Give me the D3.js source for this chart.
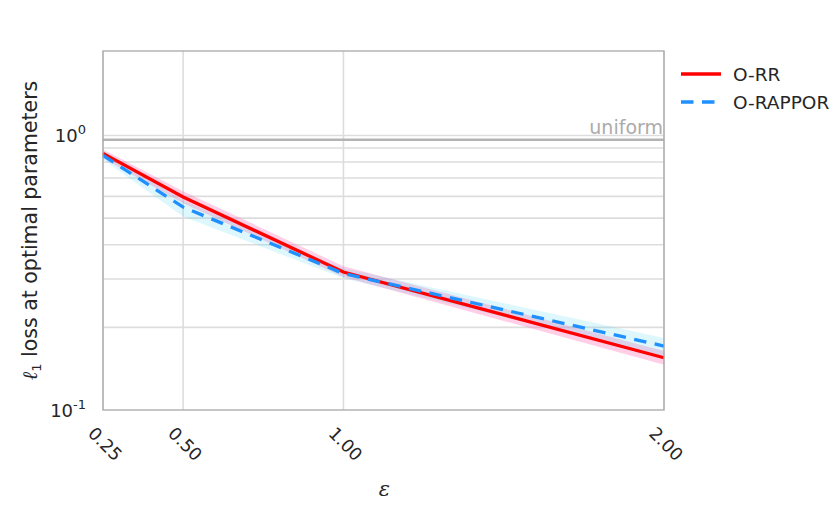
<!DOCTYPE html>
<html>
<head>
<meta charset="utf-8">
<script src="https://cdn.jsdelivr.net/npm/d3@7"></script>
<style>
body { margin: 0; background: #fff; }
</style>
</head>
<body>
<div id="chart"></div>
<script>
// epsilon values and loss at optimal params
var eps = [0.25, 0.5, 1.0, 2.0];
var orr = [0.86, 0.597, 0.318, 0.155];
var orr_lo = [0.825, 0.566, 0.305, 0.146];
var orr_hi = [0.889, 0.626, 0.334, 0.164];
var orap = [0.846, 0.548, 0.314, 0.171];
var orap_lo = [0.818, 0.507, 0.302, 0.158];
var orap_hi = [0.875, 0.58, 0.328, 0.183];
var uniform = 0.965;
var xticks = [0.25, 0.5, 1.0, 2.0];
var yminor = [0.2, 0.3, 0.4, 0.5, 0.6, 0.7, 0.8, 0.9, 1.0];

var width = 831, height = 514;
var pl = 103, pr = 664, pt = 51, pb = 410;
var FONT = "'DejaVu Sans', sans-serif";
var DASH = "12.5,8.5";

var svg = d3.select("#chart").append("svg")
	.attr("width", width)
	.attr("height", height)
	.attr("font-family", FONT);

var x = d3.scaleLinear().domain([0.25, 2.0]).range([pl, pr]);
var y = d3.scaleLog().domain([0.1, 2.03]).range([pb, pt]);

// grid
svg.append("g").selectAll("line")
	.data(yminor)
	.enter().append("line")
	.attr("x1", pl).attr("x2", pr)
	.attr("y1", function(d){ return y(d); })
	.attr("y2", function(d){ return y(d); })
	.attr("stroke", "#dddddd")
	.attr("stroke-width", 1.6);

svg.append("g").selectAll("line")
	.data(xticks)
	.enter().append("line")
	.attr("x1", function(d){ return x(d); })
	.attr("x2", function(d){ return x(d); })
	.attr("y1", pt).attr("y2", pb)
	.attr("stroke", "#dddddd")
	.attr("stroke-width", 1.6);

// uniform line
svg.append("line")
	.attr("x1", pl).attr("x2", pr)
	.attr("y1", y(uniform)).attr("y2", y(uniform))
	.attr("stroke", "#b4b4b4")
	.attr("stroke-width", 2.4);
svg.append("text")
	.attr("x", pr - 1).attr("y", y(uniform) - 6)
	.attr("text-anchor", "end")
	.attr("font-size", 19)
	.attr("fill", "#ababab")
	.text("uniform");

var idx = d3.range(eps.length);

function band(lo, hi, color, op) {
	var area = d3.area()
		.x(function(i){ return x(eps[i]); })
		.y0(function(i){ return y(lo[i]); })
		.y1(function(i){ return y(hi[i]); });
	svg.append("path")
		.datum(idx)
		.attr("d", area)
		.attr("fill", color)
		.attr("fill-opacity", op);
}

band(orr_lo, orr_hi, "#ff69b4", 0.32);
band(orap_lo, orap_hi, "#40d0f0", 0.18);

var line = function(vals) {
	return d3.line()
		.x(function(i){ return x(eps[i]); })
		.y(function(i){ return y(vals[i]); })(idx);
};

svg.append("path")
	.attr("d", line(orr))
	.attr("fill", "none")
	.attr("stroke", "#ff0000")
	.attr("stroke-width", 3.3);

svg.append("path")
	.attr("d", line(orap))
	.attr("fill", "none")
	.attr("stroke", "#1e90ff")
	.attr("stroke-width", 3.3)
	.attr("stroke-dasharray", DASH);

// frame
svg.append("rect")
	.attr("x", pl).attr("y", pt)
	.attr("width", pr - pl).attr("height", pb - pt)
	.attr("fill", "none")
	.attr("stroke", "#a8a8a8")
	.attr("stroke-width", 1.3);

// x tick labels
svg.append("g").selectAll("text")
	.data(xticks)
	.enter().append("text")
	.attr("transform", function(d){ return "translate(" + (x(d) + 2) + "," + (pb + 34) + ") rotate(45)"; })
	.attr("text-anchor", "middle")
	.attr("dominant-baseline", "central")
	.attr("font-size", 17.5)
	.attr("fill", "#262626")
	.text(function(d){ return d3.format(".2f")(d); });

// y tick labels
[[1, "0", y(1)], [0.1, "-1", y(0.1)]].forEach(function(t){
	var tx = svg.append("text")
		.attr("x", 86).attr("y", t[2] + 7)
		.attr("text-anchor", "end")
		.attr("font-size", 18)
		.attr("fill", "#262626");
	tx.append("tspan").text("10");
	tx.append("tspan").attr("font-size", 13).attr("dy", -8).text(t[1]);
});

// axis labels
svg.append("text")
	.attr("x", (pl + pr) / 2 + 1).attr("y", 496)
	.attr("text-anchor", "middle")
	.attr("font-size", 21)
	.attr("font-family", "'DejaVu Serif', serif")
	.attr("font-style", "italic")
	.attr("fill", "#262626")
	.text("ε");

var yl = svg.append("text")
	.attr("transform", "translate(37," + ((pt + pb) / 2) + ") rotate(-90)")
	.attr("text-anchor", "middle")
	.attr("font-size", 20.5)
	.attr("fill", "#262626");
yl.append("tspan").attr("font-family", "'DejaVu Serif', serif").attr("font-style", "italic").text("ℓ");
yl.append("tspan").attr("font-size", 13).attr("dy", 4).text("1");
yl.append("tspan").attr("dy", -4).text(" loss at optimal parameters");

// legend
var legend = [{name: "O-RR", color: "#ff0000", dash: null}, {name: "O-RAPPOR", color: "#1e90ff", dash: DASH}];
var lg = svg.append("g").selectAll("g")
	.data(legend)
	.enter().append("g")
	.attr("transform", function(d, i){ return "translate(681," + (74 + 28 * i) + ")"; });
lg.append("line")
	.attr("x1", 0).attr("x2", 40)
	.attr("stroke", function(d){ return d.color; })
	.attr("stroke-width", 3.3)
	.attr("stroke-dasharray", function(d){ return d.dash; });
lg.append("text")
	.attr("x", 52).attr("y", 7)
	.attr("font-size", 18.5)
	.attr("fill", "#262626")
	.text(function(d){ return d.name; });
</script>
</body>
</html>
